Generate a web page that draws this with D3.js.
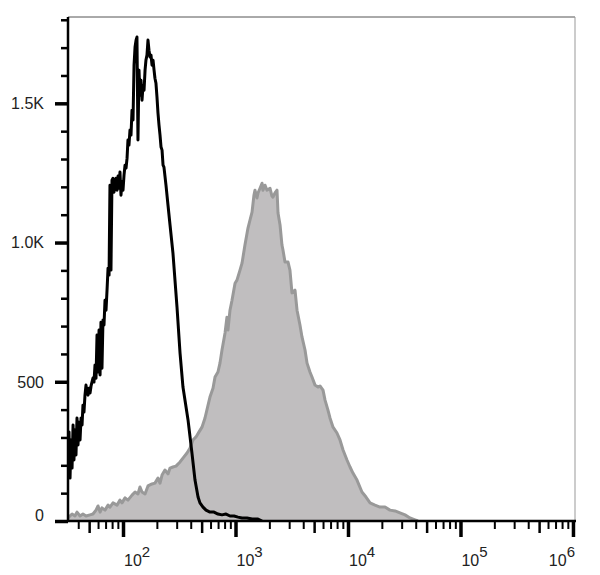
<!DOCTYPE html>
<html>
<head>
<meta charset="utf-8">
<script src="https://cdn.jsdelivr.net/npm/d3@7"></script>
<style>
  html, body { margin: 0; padding: 0; background: #fff; }
  svg { display: block; font-family: "Liberation Sans", Arial, sans-serif; }
</style>
</head>
<body>
<svg id="chart" width="600" height="575"></svg>
<script>
// ---- data (log10 fluorescence, event counts) ----
const blackLogFL = [1.511,1.520,1.529,1.538,1.547,1.556,1.564,1.573,1.582,1.591,1.600,1.609,1.618,1.627,1.636,1.644,1.653,1.662,1.671,1.680,1.689,1.698,1.707,1.716,1.724,1.733,1.742,1.751,1.760,1.769,1.778,1.787,1.796,1.804,1.813,1.822,1.831,1.840,1.849,1.858,1.867,1.876,1.884,1.893,1.902,1.911,1.920,1.929,1.938,1.947,1.956,1.964,1.973,1.982,1.991,2.000,2.009,2.018,2.027,2.036,2.044,2.053,2.062,2.071,2.080,2.089,2.098,2.107,2.116,2.124,2.133,2.142,2.151,2.160,2.169,2.178,2.187,2.196,2.204,2.213,2.222,2.231,2.240,2.249,2.258,2.267,2.276,2.284,2.293,2.302,2.311,2.320,2.329,2.338,2.347,2.356,2.364,2.382,2.400,2.418,2.444,2.480,2.507,2.533,2.578,2.613,2.640,2.667,2.684,2.711,2.738,2.773,2.809,2.844,2.880,2.916,2.951,2.987,3.022,3.058,3.102,3.147,3.200,3.236];
const blackCounts = [183,320,154,291,190,345,219,327,237,370,273,355,291,370,345,416,391,452,488,463,452,477,460,485,499,513,499,560,513,668,535,686,524,714,549,722,704,793,757,829,908,883,1206,901,1224,1231,1181,1206,1231,1188,1239,1195,1253,1170,1217,1188,1242,1278,1267,1303,1368,1350,1404,1386,1475,1440,1637,1702,1727,1738,1368,1619,1529,1583,1511,1565,1547,1619,1655,1673,1727,1691,1666,1673,1637,1655,1619,1590,1572,1522,1465,1422,1386,1343,1332,1278,1271,1206,1134,1063,962,768,603,481,363,244,147,86,65,50,39,32,32,25,22,25,18,18,14,11,11,7,7,0];

const grayLogFL = [1.511,1.547,1.573,1.591,1.618,1.644,1.671,1.707,1.733,1.760,1.778,1.796,1.813,1.840,1.867,1.884,1.911,1.947,1.973,1.991,2.018,2.044,2.080,2.107,2.133,2.151,2.169,2.196,2.222,2.258,2.284,2.311,2.329,2.347,2.373,2.400,2.418,2.444,2.471,2.507,2.533,2.569,2.596,2.622,2.649,2.676,2.702,2.729,2.756,2.773,2.800,2.818,2.844,2.862,2.880,2.907,2.924,2.933,2.951,2.969,2.996,3.013,3.040,3.058,3.084,3.111,3.129,3.147,3.164,3.173,3.191,3.200,3.218,3.236,3.244,3.262,3.280,3.307,3.324,3.333,3.351,3.369,3.378,3.396,3.413,3.422,3.440,3.467,3.484,3.502,3.529,3.547,3.573,3.591,3.618,3.636,3.662,3.680,3.707,3.733,3.751,3.778,3.796,3.822,3.840,3.867,3.902,3.929,3.956,3.991,4.018,4.044,4.080,4.124,4.160,4.196,4.240,4.284,4.329,4.373,4.418,4.462,4.507,4.551,4.596,4.622];
const grayCounts = [11,25,18,32,18,25,18,22,25,39,54,32,47,39,57,50,65,57,75,65,83,75,93,104,97,122,104,97,126,133,136,154,136,165,183,169,190,194,197,212,226,244,262,291,302,320,337,370,416,445,477,517,535,567,614,675,732,686,757,793,854,865,901,926,991,1052,1081,1109,1170,1188,1160,1178,1195,1213,1188,1206,1188,1195,1167,1163,1178,1188,1106,1063,991,973,930,930,901,819,829,757,704,661,614,567,535,517,488,481,485,470,434,398,370,337,316,291,255,219,194,172,147,104,86,65,57,50,50,39,36,29,22,11,4,0];

const yMajorTicks = [0, 500, 1000, 1500];
const yMajorLabels = ["0", "500", "1.0K", "1.5K"];
const yMinorTicks = [100,200,300,400,600,700,800,900,1100,1200,1300,1400,1600,1700,1800];
const xDecades = [2, 3, 4, 5, 6];
const xDomainLog = [1.511, 6.018];
const yDomain = [0, 1810];

// ---- layout ----
const L = 68, R = 575, T = 17, B = 521;
const svg = d3.select("#chart");

const x = d3.scaleLog().domain(xDomainLog.map(v => Math.pow(10, v))).range([L, R]);
const y = d3.scaleLinear().domain(yDomain).range([B, T]);

const black = blackLogFL.map((v, i) => ({ fl: Math.pow(10, v), c: blackCounts[i] }));
const gray = grayLogFL.map((v, i) => ({ fl: Math.pow(10, v), c: grayCounts[i] }));

svg.append("clipPath").attr("id", "clip").append("rect")
  .attr("x", L).attr("y", T - 2).attr("width", R - L).attr("height", B - T + 2);

const plot = svg.append("g").attr("clip-path", "url(#clip)");

// gray filled histogram
plot.append("path").datum(gray)
  .attr("d", d3.area().x(d => x(d.fl)).y0(y(0)).y1(d => y(d.c)))
  .attr("fill", "#c0bebf");
plot.append("path").datum(gray)
  .attr("d", d3.line().x(d => x(d.fl)).y(d => y(d.c)))
  .attr("fill", "none").attr("stroke", "#999999").attr("stroke-width", 3)
  .attr("stroke-linejoin", "round");

// black open histogram
plot.append("path").datum(black)
  .attr("d", d3.line().x(d => x(d.fl)).y(d => y(d.c)))
  .attr("fill", "none").attr("stroke", "#000").attr("stroke-width", 3)
  .attr("stroke-linejoin", "round");

// frame: top and right thin gray
svg.append("line").attr("x1", L).attr("x2", R).attr("y1", T).attr("y2", T)
  .attr("stroke", "#555").attr("stroke-width", 1);
svg.append("line").attr("x1", R).attr("x2", R).attr("y1", T).attr("y2", B)
  .attr("stroke", "#999").attr("stroke-width", 1);

// y axis
const yMinorAxis = d3.axisLeft(y).tickValues(yMinorTicks).tickSize(7).tickFormat("");
const yMajorAxis = d3.axisLeft(y).tickValues(yMajorTicks).tickSize(13).tickFormat("");
const gyMin = svg.append("g").attr("transform", `translate(${L},0)`).call(yMinorAxis);
const gyMaj = svg.append("g").attr("transform", `translate(${L},0)`).call(yMajorAxis);
[gyMin, gyMaj].forEach(g => g.select(".domain").remove());
gyMin.selectAll("line").attr("stroke", "#000").attr("stroke-width", 2.5);
gyMaj.selectAll("line").attr("stroke", "#000").attr("stroke-width", 3.5);

svg.selectAll(".ylab").data(yMajorTicks).enter().append("text")
  .attr("class", "ylab")
  .attr("x", 44)
  .attr("y", d => y(d) + (d === 0 ? -6 : 0))
  .attr("dy", "0.36em")
  .attr("text-anchor", "end")
  .attr("font-size", 16)
  .attr("fill", "#222")
  .text((d, i) => yMajorLabels[i]);

// x axis ticks
const minorVals = [], midVals = [];
const lo = Math.floor(xDomainLog[0]), hi = Math.ceil(xDomainLog[1]);
for (let e = lo; e < hi; e++) {
  for (let k = 2; k <= 9; k++) {
    const v = k * Math.pow(10, e);
    if (v < x.domain()[0] || v > x.domain()[1]) continue;
    (k === 5 ? midVals : minorVals).push(v);
  }
}
const majorVals = xDecades.map(e => Math.pow(10, e));
const gxMin = svg.append("g").attr("transform", `translate(0,${B})`)
  .call(d3.axisBottom(x).tickValues(minorVals).tickSize(8).tickFormat(""));
const gxMid = svg.append("g").attr("transform", `translate(0,${B})`)
  .call(d3.axisBottom(x).tickValues(midVals).tickSize(12).tickFormat(""));
const gxMaj = svg.append("g").attr("transform", `translate(0,${B})`)
  .call(d3.axisBottom(x).tickValues(majorVals).tickSize(16).tickFormat(""));
[gxMin, gxMid, gxMaj].forEach(g => g.select(".domain").remove());
gxMin.selectAll("line").attr("stroke", "#000").attr("stroke-width", 2);
gxMid.selectAll("line").attr("stroke", "#000").attr("stroke-width", 2.5);
gxMaj.selectAll("line").attr("stroke", "#000").attr("stroke-width", 3.5);

// axis lines
svg.append("line").attr("x1", L).attr("x2", L).attr("y1", T).attr("y2", B + 1)
  .attr("stroke", "#000").attr("stroke-width", 2.5);
svg.append("line").attr("x1", L - 1).attr("x2", R + 1).attr("y1", B).attr("y2", B)
  .attr("stroke", "#000").attr("stroke-width", 2.5);

// x labels 10^n (last one kept inside the frame)
const lastDecade = xDecades[xDecades.length - 1];
const xl = svg.selectAll(".xlab").data(xDecades).enter().append("text")
  .attr("class", "xlab")
  .attr("x", d => d === lastDecade ? R : x(Math.pow(10, d)) + 1)
  .attr("text-anchor", d => d === lastDecade ? "end" : "start")
  .attr("y", 565.5)
  .attr("font-size", 16)
  .attr("fill", "#222");
xl.append("tspan").text("10");
xl.append("tspan").attr("dy", -8.5).attr("font-size", 15).text(d => d);
</script>
</body>
</html>
